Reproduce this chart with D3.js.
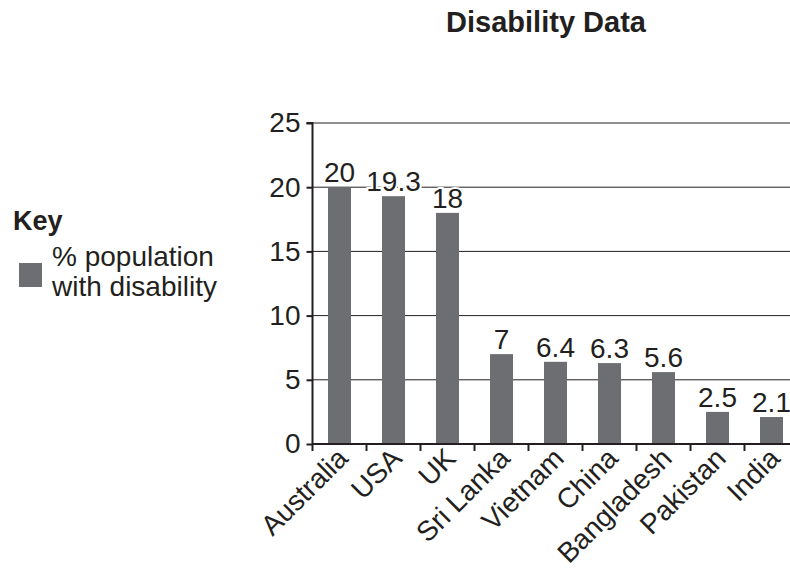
<!DOCTYPE html>
<html><head><meta charset="utf-8">
<script src="https://cdn.jsdelivr.net/npm/d3@7/dist/d3.min.js"></script>
<style>body{margin:0;background:#fff;overflow:hidden}svg{display:block}text{font-family:"Liberation Sans",Arial,sans-serif;fill:#231f20}</style>
</head><body><svg id="c" width="790" height="569"></svg>
<script>
const categories = ["Australia","USA","UK","Sri Lanka","Vietnam","China","Bangladesh","Pakistan","India"];
const values = [20,19.3,18,7,6.4,6.3,5.6,2.5,2.1];
const valueLabels = ["20","19.3","18","7","6.4","6.3","5.6","2.5","2.1"];
const yTicks = [0,5,10,15,20,25];
const title = "Disability Data";
const keyTitle = "Key";
const keyLines = ["% population","with disability"];

const svg = d3.select("#c");
const L = 312.5, T = 123, B = 444, STEP = 54;
const x = d3.scaleBand().domain(categories).range([L, L + STEP*categories.length]).paddingInner(0.574).paddingOuter(0.287);
const xBand = d3.scaleBand().domain(categories).range([L, L + STEP*categories.length]);
const y = d3.scaleLinear().domain([0,25]).range([B, T]);
const barColor = "#6d6e71";
const FS = 28;

// gridlines
svg.append("g").selectAll("line").data(yTicks.slice(1)).join("line")
  .attr("x1", L).attr("x2", 790).attr("y1", d=>y(d)).attr("y2", d=>y(d))
  .attr("stroke", "#231f20").attr("stroke-width", 1);

// bars
svg.append("g").selectAll("rect").data(values).join("rect")
  .attr("x", (d,i)=>x(categories[i])).attr("width", x.bandwidth())
  .attr("y", d=>y(d)).attr("height", d=>B - y(d)).attr("fill", barColor);

// value labels
svg.append("g").selectAll("text").data(values).join("text")
  .attr("x", (d,i)=>x(categories[i]) + x.bandwidth()/2).attr("y", d=>y(d) - 5)
  .attr("text-anchor", "middle").attr("font-size", FS)
  .attr("stroke", "#fff").attr("stroke-width", 4).attr("paint-order", "stroke")
  .text((d,i)=>valueLabels[i]);

// y axis
const yAxis = svg.append("g").attr("transform", `translate(${L},0)`)
  .call(d3.axisLeft(y).tickValues(yTicks).tickSize(6).tickPadding(6));
yAxis.select(".domain").attr("stroke", "#231f20").attr("stroke-width", 2).attr("d", `M-6,${T}H0V${B}`);
yAxis.selectAll(".tick line").attr("stroke", "#231f20").attr("stroke-width", 2);
yAxis.selectAll(".tick text").attr("font-size", FS).attr("fill", "#231f20").style("font-family", "Liberation Sans, Arial, sans-serif");

// x axis
const xAxis = svg.append("g").attr("transform", `translate(0,${B})`);
xAxis.append("line").attr("x1", L).attr("x2", 790).attr("stroke", "#231f20").attr("stroke-width", 2);
xAxis.selectAll("line.tk").data(categories).join("line").attr("class","tk")
  .attr("x1", d=>xBand(d)).attr("x2", d=>xBand(d)).attr("y1", 0).attr("y2", 7)
  .attr("stroke", "#231f20").attr("stroke-width", 2);
xAxis.selectAll("text").data(categories).join("text")
  .attr("transform", d=>`translate(${xBand(d) + STEP/2 + 10},16) rotate(-45)`)
  .attr("text-anchor", "end").attr("font-size", FS).text(d=>d);

// title
svg.append("text").attr("x", 546).attr("y", 32).attr("text-anchor", "middle")
  .attr("font-size", 29).attr("font-weight", "bold").text(title);

// key
svg.append("text").attr("x", 13).attr("y", 230).attr("font-size", 27).attr("font-weight", "bold").text(keyTitle);
svg.append("rect").attr("x", 19).attr("y", 263).attr("width", 23).attr("height", 24).attr("fill", barColor);
svg.append("g").selectAll("text").data(keyLines).join("text")
  .attr("x", 52).attr("y", (d,i)=>266 + i*30).attr("font-size", FS).text(d=>d);
</script></body></html>
